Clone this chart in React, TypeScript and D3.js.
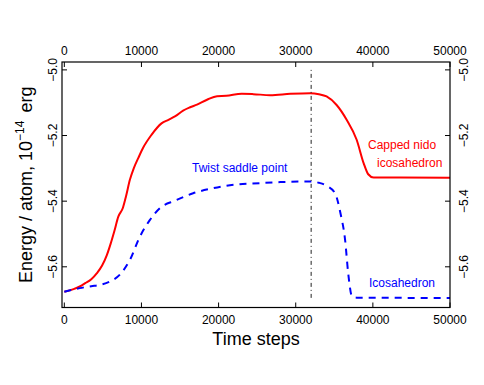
import React from "react";
import * as d3 from "d3";

// Chart size and plot box (pixels)
const width = 484;
const height = 385;
const box = { left: 62, right: 450, top: 62, bottom: 307.5 };

// Red curve: capped nido icosahedron
const redSteps = [0, 1200, 2000, 2700, 3500, 4200, 4900, 5500, 6000, 6500, 7000, 7600, 8000, 8500, 9000, 9600, 10200, 11300, 12600, 13500, 14400, 15400, 16300, 17200, 18500, 19800, 21000, 23000, 24500, 26700, 29300, 31900, 33000, 34000, 35300, 36600, 37900, 38800, 39400, 40100, 43500, 50000];
const redEnergy = [-5.676, -5.668, -5.66, -5.65, -5.638, -5.62, -5.596, -5.565, -5.53, -5.49, -5.447, -5.42, -5.385, -5.335, -5.3, -5.268, -5.238, -5.198, -5.163, -5.152, -5.141, -5.124, -5.114, -5.106, -5.091, -5.08, -5.079, -5.073, -5.074, -5.077, -5.073, -5.071, -5.074, -5.081, -5.107, -5.152, -5.213, -5.284, -5.318, -5.328, -5.328, -5.329];

// Blue dashed curve: twist saddle point -> icosahedron
const blueSteps = [0, 2000, 3500, 4600, 5900, 7200, 8500, 9800, 11100, 12400, 14400, 16700, 19000, 21000, 25400, 28000, 31900, 33000, 34000, 35100, 35800, 36400, 36800, 37300, 37900, 50000];
const blueEnergy = [-5.676, -5.665, -5.659, -5.655, -5.645, -5.624, -5.579, -5.508, -5.457, -5.421, -5.398, -5.376, -5.362, -5.353, -5.345, -5.342, -5.34, -5.344, -5.353, -5.376, -5.437, -5.518, -5.619, -5.69, -5.694, -5.695];

const xTicks = [0, 10000, 20000, 30000, 40000, 50000];
const yTicks = [-5.6, -5.4, -5.2, -5.0];
const markerStep = 32000;
const markerRange = [-5.0, -5.7];

const font = "'Liberation Sans', Arial, Helvetica, sans-serif";

export default function App() {
  const x = d3.scaleLinear().domain([-300, 50000]).range([box.left, box.right]);
  const y = d3.scaleLinear().domain([-5.724, -4.976]).range([box.bottom, box.top]);

  const red = d3.line<number>()
    .x((_, i) => x(redSteps[i]))
    .y((d) => y(d))
    .curve(d3.curveMonotoneX);
  const blue = d3.line<number>()
    .x((_, i) => x(blueSteps[i]))
    .y((d) => y(d))
    .curve(d3.curveMonotoneX);

  const fmtY = (v: number) => v.toFixed(1).replace("-", "\u2212");

  return (
    <svg width={width} height={height} style={{ position: "absolute", left: 0, top: 0 }} fontFamily={font}>
      <rect width={width} height={height} fill="#fff" />

      {/* curves */}
      <path d={red(redEnergy) || ""} fill="none" stroke="#ff0000" strokeWidth={2} strokeLinejoin="round" />
      <path d={blue(blueEnergy) || ""} fill="none" stroke="#0000ff" strokeWidth={2} strokeDasharray="7,6" />

      {/* marker line */}
      <line x1={x(markerStep)} x2={x(markerStep)} y1={y(markerRange[0])} y2={y(markerRange[1])}
        stroke="#222" strokeWidth={1} strokeDasharray="1,3,4,3" />

      {/* box */}
      <rect x={box.left} y={box.top} width={box.right - box.left} height={box.bottom - box.top}
        fill="none" stroke="#000" strokeWidth={1.2} />

      {/* x ticks top and bottom */}
      {xTicks.map((t) => (
        <g key={"x" + t}>
          <line x1={x(t)} x2={x(t)} y1={box.top} y2={box.top + 5} stroke="#000" />
          <line x1={x(t)} x2={x(t)} y1={box.bottom} y2={box.bottom - 5} stroke="#000" />
          <text x={x(t)} y={55} textAnchor="middle" fontSize={12}>{t}</text>
          <text x={x(t)} y={324} textAnchor="middle" fontSize={12}>{t}</text>
        </g>
      ))}

      {/* y ticks left and right */}
      {yTicks.map((t) => (
        <g key={"y" + t}>
          <line x1={box.left} x2={box.left + 5} y1={y(t)} y2={y(t)} stroke="#000" />
          <line x1={box.right} x2={box.right - 5} y1={y(t)} y2={y(t)} stroke="#000" />
          <text transform={`translate(56.5,${y(t)}) rotate(-90)`} textAnchor="middle" fontSize={12}>{fmtY(t)}</text>
          <text transform={`translate(468,${y(t)}) rotate(-90)`} textAnchor="middle" fontSize={12}>{fmtY(t)}</text>
        </g>
      ))}

      {/* axis titles */}
      <text x={(box.left + box.right) / 2} y={345} textAnchor="middle" fontSize={18}>Time steps</text>
      <text transform={`translate(32,${(box.top + box.bottom) / 2}) rotate(-90)`} textAnchor="middle" fontSize={18}>
        Energy / atom, 10<tspan fontSize={12} dy={-8}>{"\u221214"}</tspan><tspan dx={8} dy={8}>erg</tspan>
      </text>

      {/* annotations */}
      <text x={192} y={171.5} fontSize={12} fill="#0000ff">Twist saddle point</text>
      <text x={368} y={149} fontSize={12} fill="#ff0000">Capped nido</text>
      <text x={377} y={166.5} fontSize={12} fill="#ff0000">icosahedron</text>
      <text x={369} y={287} fontSize={12} fill="#0000ff">Icosahedron</text>
    </svg>
  );
}
